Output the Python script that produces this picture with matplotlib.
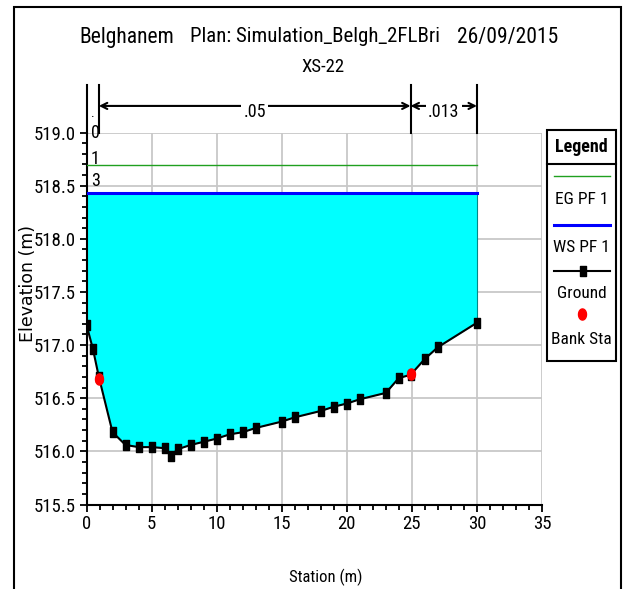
import matplotlib
matplotlib.use("Agg")
import matplotlib.pyplot as plt
from matplotlib.path import Path
from matplotlib.patches import Rectangle
from matplotlib.markers import MarkerStyle
import numpy as np

# Cross-section XS-22 ground survey (station m, elevation m)
station = [0.0, 0.5, 0.95, 2.0, 3.0, 4.0, 5.0, 6.0, 6.5, 7.0, 8.0, 9.0, 10.0, 11.0,
           12.0, 13.0, 15.0, 16.0, 18.0, 19.0, 20.0, 21.0, 23.0, 24.0, 24.9, 26.0,
           27.0, 30.0]
elevation = [517.19, 516.96, 516.70, 516.18, 516.06, 516.04, 516.04, 516.03, 515.96,
             516.02, 516.06, 516.09, 516.12, 516.16, 516.18, 516.22, 516.28, 516.32,
             516.38, 516.42, 516.45, 516.49, 516.55, 516.69, 516.72, 516.87, 516.98,
             517.21]

bank_station = [0.95, 24.9]
bank_elevation = [516.68, 516.73]

eg_elev = 518.69   # energy grade, PF 1
ws_elev = 518.43   # water surface, PF 1

# Manning's n regions
n_bounds = [0.0, 0.95, 24.9, 30.0]
n_values = [".", ".05", ".013"]

xticks = [0, 5, 10, 15, 20, 25, 30, 35]
yticks = [515.5, 516.0, 516.5, 517.0, 517.5, 518.0, 518.5, 519.0]
ytick_labels = ["515.5", "516.0", "516.5", "517.0", "517.5", "518.0", "518.5", "519.0"]
profile_tags = [("0", 519.0), ("1", eg_elev + 0.06), ("3", ws_elev + 0.11)]
legend_labels = ["EG PF 1", "WS PF 1", "Ground", "Bank Sta"]

NARROW = dict(family=["Roboto Condensed", "DejaVu Sans"], stretch="condensed")
EG_COLOR = "#20a020"
WS_COLOR = "#0000ff"
WATER = "#00ffff"
GRID = "#c8c8c8"

W, H = 625, 589
fig = plt.figure(figsize=(W / 100, H / 100), dpi=100)


def fx(px):
    return px / W


def fy(py):
    return (H - py) / H


# rectangular ground marker (taller than wide) and elliptic bank marker
rect_marker = MarkerStyle(Path([(-0.37, -0.5), (0.37, -0.5), (0.37, 0.5), (-0.37, 0.5), (-0.37, -0.5)],
                               [Path.MOVETO, Path.LINETO, Path.LINETO, Path.LINETO, Path.CLOSEPOLY]))
t = np.linspace(0, 2 * np.pi, 40)
ellipse_marker = MarkerStyle(Path(np.column_stack([0.36 * np.cos(t), 0.5 * np.sin(t)]), closed=True))

ax = fig.add_axes([fx(86.5), fy(504.5), fx(542) - fx(86.5), fy(132.5) - fy(504.5)])
ax.set_xlim(0, 35)
ax.set_ylim(515.5, 519.0)

ax.fill_between(station, elevation, ws_elev, color=WATER, lw=0, zorder=1)
ax.plot([station[-1], station[-1]], [elevation[-1], ws_elev], color="#008888", lw=0.8, zorder=2)
ax.plot([0, station[-1]], [eg_elev, eg_elev], color=EG_COLOR, lw=1.0, zorder=3)
ax.plot([0, station[-1]], [ws_elev, ws_elev], color=WS_COLOR, lw=2.2, zorder=3)
ax.plot(station, elevation, color="black", lw=1.5, marker=rect_marker, ms=6.5,
        mfc="black", mec="black", zorder=4)
ax.plot(bank_station, bank_elevation, ls="none", marker=ellipse_marker, ms=8,
        mfc="red", mec="red", zorder=5)

ax.set_xticks(xticks)
ax.set_xticklabels([str(v) for v in xticks], fontsize=13.5, **NARROW)
ax.set_yticks(yticks)
ax.set_yticklabels(ytick_labels, fontsize=13.5, **NARROW)
ax.set_xticks(np.arange(0, 35.01, 1.0), minor=True)
ax.set_yticks(np.arange(515.5, 519.001, 0.1), minor=True)
ax.tick_params(which="major", direction="out", length=5, width=1.3, pad=2.5)
ax.tick_params(which="minor", direction="out", length=3.5, width=1.3)
ax.grid(True, which="major", color=GRID, lw=1.3, zorder=0)
ax.set_axisbelow(True)
for side in ("top", "right"):
    ax.spines[side].set_visible(False)
for side in ("left", "bottom"):
    ax.spines[side].set_linewidth(1.5)

# profile tags next to the left bank
for tag, yv in profile_tags:
    ax.text(0.35, yv, tag, fontsize=13, va="center", ha="left", zorder=6, **NARROW)

# Manning's n bars above the plot
y_top, y_arrow, y_lab = 519.45, 519.25, 519.19
for b in n_bounds:
    ax.plot([b, b], [519.0, y_top], color="black", lw=1.5, clip_on=False)
for (a, b), val in zip(zip(n_bounds[:-1], n_bounds[1:]), n_values):
    mid = 0.5 * (a + b)
    if b - a > 2:
        ax.annotate("", xy=(a, y_arrow), xytext=(b, y_arrow),
                    arrowprops=dict(arrowstyle="<->", color="black", lw=1.5,
                                    shrinkA=0, shrinkB=0, mutation_scale=11),
                    annotation_clip=False)
        ax.text(mid, y_lab, val, fontsize=13, ha="center", va="center",
                bbox=dict(fc="white", ec="none", pad=1.5), clip_on=False, **NARROW)
    else:
        ax.text(mid, 519.18, val, fontsize=10, ha="center", va="center",
                clip_on=False, **NARROW)

# titles and axis labels
fig.text(fx(126.5), fy(37), "Belghanem", fontsize=15.5, ha="center", va="center", **NARROW)
fig.text(fx(315), fy(37), "Plan: Simulation_Belgh_2FLBri", fontsize=15,
         ha="center", va="center", **NARROW)
fig.text(fx(508), fy(37), "26/09/2015", fontsize=15.5, ha="center", va="center", **NARROW)
fig.text(fx(323), fy(67), "XS-22", fontsize=13.5, ha="center", va="center", **NARROW)
fig.text(fx(326), fy(577), "Station (m)", fontsize=12, ha="center", va="center", **NARROW)
fig.text(fx(28), fy(283), "Elevation (m)", family="DejaVu Sans", fontsize=12.5,
         rotation=90, ha="center", va="center")

# legend panel
lg = fig.add_axes([fx(547), fy(361), fx(616) - fx(547), fy(130) - fy(361)])
lg.set_xlim(0, 69)
lg.set_ylim(231, 0)
lg.axis("off")
lg.add_patch(Rectangle((0, 0), 69, 231, fill=False, lw=1.5, ec="black", clip_on=False))
lg.plot([0, 69], [34, 34], color="black", lw=1.5, clip_on=False)
lg.text(34.5, 17, "Legend", fontsize=13, weight="bold", ha="center", va="center", **NARROW)
lg.plot([7, 63], [46, 46], color=EG_COLOR, lw=1.0)
lg.plot([7, 63], [95, 95], color=WS_COLOR, lw=2.2)
lg.plot([7, 63], [141, 141], color="black", lw=1.5)
lg.plot([36], [141], ls="none", marker=rect_marker, ms=6.5, mfc="black", mec="black")
lg.plot([35], [184], ls="none", marker=ellipse_marker, ms=8, mfc="red", mec="red")
for lab, yy in zip(legend_labels, [70, 117, 163, 209]):
    lg.text(34.5, yy, lab, fontsize=12.5, ha="center", va="center", **NARROW)

# outer frame
fig.add_artist(Rectangle((fx(14), -0.05), fx(621) - fx(14), fy(7) + 0.05,
                         transform=fig.transFigure, fill=False, lw=1.5, ec="black"))

fig.savefig("out.png", dpi=100)
